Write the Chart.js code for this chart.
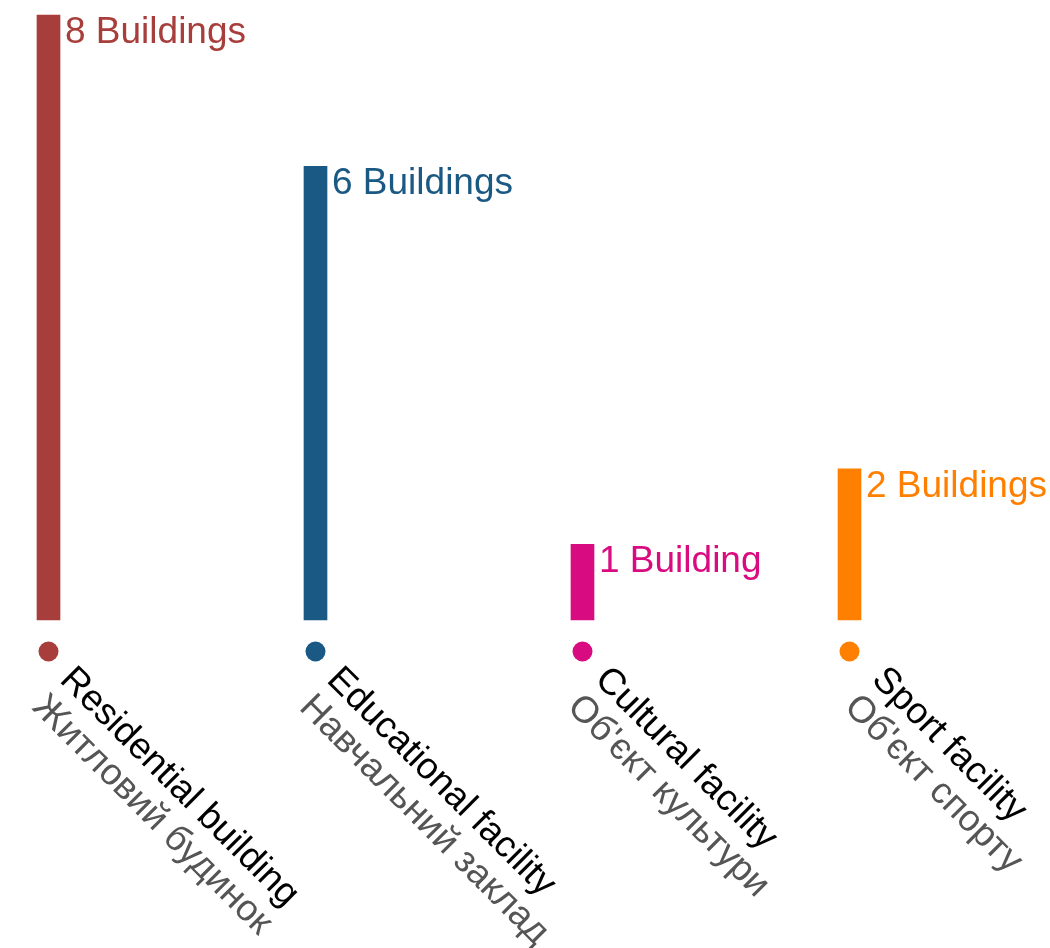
<!DOCTYPE html>
<html>
<head>
<meta charset="utf-8">
<script src="https://cdn.jsdelivr.net/npm/chart.js@4"></script>
<style>
  html, body { margin: 0; padding: 0; background: #fff; }
  #wrap { width: 1050px; height: 948px; }
</style>
</head>
<body>
<div id="wrap"><canvas id="myChart" width="1050" height="948"></canvas></div>
<script>
// categories, english + ukrainian names
var categories = ['Residential building', 'Educational facility', 'Cultural facility', 'Sport facility'];
var categoriesUk = ['Житловий будинок', 'Навчальний заклад', "Об'єкт культури", "Об'єкт спорту"];
// number of buildings per category
var counts = [8, 6, 1, 2];
// value labels above each bar
var valueLabels = ['8 Buildings', '6 Buildings', '1 Building', '2 Buildings'];
var colors = ['#a83e3b', '#1a5984', '#d90b80', '#ff8000'];

var FONT = '"Liberation Sans", Arial, sans-serif';

// draws value labels, dots and rotated two-line category labels
var labelPlugin = {
  id: 'labelPlugin',
  afterDatasetsDraw: function (chart, args, opts) {
    var ctx = chart.ctx;
    var xScale = chart.scales.x;
    var yScale = chart.scales.y;
    var meta = chart.getDatasetMeta(0);
    ctx.save();
    for (var i = 0; i < counts.length; i++) {
      var bar = meta.data[i];
      var x = xScale.getPixelForValue(i);
      var top = yScale.getPixelForValue(counts[i]);
      var base = yScale.getPixelForValue(0);

      // value label to the right of the bar top
      ctx.font = '37px ' + FONT;
      ctx.fillStyle = colors[i];
      ctx.textAlign = 'left';
      ctx.textBaseline = 'alphabetic';
      ctx.fillText(valueLabels[i], x + bar.width / 2 + 5, top + 28);

      // dot under the bar
      ctx.beginPath();
      ctx.arc(x, base + 31.5, 10, 0, Math.PI * 2);
      ctx.fillStyle = colors[i];
      ctx.fill();

      // rotated category names (last one sits a bit further right in the original)
      ctx.save();
      ctx.translate(x + 10 + (opts.nudge[i] || 0), base + 61);
      ctx.rotate(Math.PI / 4);
      ctx.font = '37px ' + FONT;
      ctx.fillStyle = '#000';
      ctx.fillText(categories[i], 0, 0);
      ctx.fillStyle = '#555';
      ctx.fillText(categoriesUk[i], 0, 39);
      ctx.restore();
    }
    ctx.restore();
  },
};

window.onload = function () {
  var ctx = document.getElementById('myChart').getContext('2d');
  var myChart = new Chart(ctx, {
    type: 'bar',
    data: {
      labels: categories,
      datasets: [
        {
          data: counts,
          backgroundColor: colors,
          borderWidth: 0,
          barThickness: 23,
          clip: false,
        },
      ],
    },
    options: {
      responsive: false,
      animation: false,
      layout: {
        padding: { top: 15, bottom: 328, left: 48.5, right: 200.5 },
      },
      plugins: {
        legend: { display: false },
        tooltip: { enabled: false },
        labelPlugin: { nudge: [0, 0, 1, 11] },
      },
      scales: {
        x: {
          display: false,
          offset: false,
        },
        y: {
          display: false,
          min: 0,
          max: 8,
        },
      },
    },
    plugins: [labelPlugin],
  });
};
</script>
</body>
</html>
